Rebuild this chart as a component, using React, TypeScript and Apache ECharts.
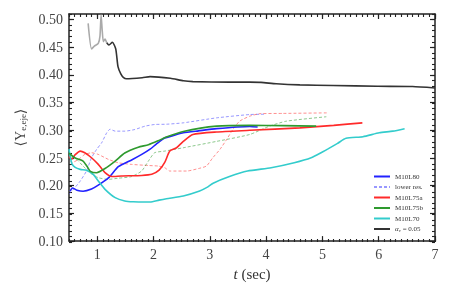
import React, { useEffect, useRef } from "react";
import * as echarts from "echarts";

const xMajor = [1, 2, 3, 4, 5, 6, 7];
const yMajor = [0.1, 0.15, 0.2, 0.25, 0.3, 0.35, 0.4, 0.45, 0.5];

const m10l80 = [[0.52,0.19],[0.56,0.196],[0.64,0.192],[0.75,0.19],[0.9,0.194],[1.02,0.201],[1.2,0.214],[1.37,0.234],[1.5,0.241],[1.62,0.247],[1.8,0.257],[1.94,0.266],[2.05,0.275],[2.2,0.286],[2.4,0.292],[2.53,0.2955],[2.8,0.299],[3.12,0.303],[3.71,0.307],[3.85,0.306]];
const lowerRes = [[0.5,0.185],[0.58,0.1935],[0.7,0.2085],[0.81,0.2265],[0.9,0.2505],[0.99,0.2655],[1.08,0.2775],[1.17,0.2955],[1.23,0.302],[1.32,0.2985],[1.49,0.2985],[1.67,0.3015],[1.85,0.3075],[2.02,0.3105],[2.23,0.311],[2.53,0.3135],[3.12,0.3225],[3.71,0.3285],[3.97,0.329]];
const m10l75a = [[0.5,0.252],[0.55,0.248],[0.61,0.256],[0.7,0.2625],[0.78,0.2595],[0.9,0.2505],[1.02,0.2385],[1.14,0.2235],[1.26,0.2165],[1.43,0.2175],[1.79,0.2185],[1.97,0.2205],[2.1,0.228],[2.2,0.242],[2.29,0.2625],[2.41,0.2685],[2.53,0.28],[2.7,0.2925],[3.12,0.297],[3.71,0.3],[4.6,0.3045],[5.2,0.309],[5.71,0.3135]];
const m10l75aLow = [[0.5,0.2535],[0.55,0.2415],[0.67,0.2475],[0.78,0.2565],[0.9,0.2595],[1.02,0.2565],[1.2,0.2475],[1.37,0.2415],[1.61,0.2385],[1.91,0.2365],[2.08,0.2355],[2.2,0.2325],[2.29,0.2265],[2.59,0.2265],[2.8,0.231],[2.94,0.2355],[3.05,0.25],[3.18,0.2655],[3.3,0.2835],[3.41,0.3015],[3.53,0.3165],[3.71,0.3255],[3.89,0.33],[4.3,0.3305],[5.09,0.3315]];
const m10l75b = [[0.5,0.259],[0.61,0.25],[0.75,0.2445],[0.82,0.235],[0.88,0.226],[0.99,0.2235],[1.14,0.231],[1.32,0.2445],[1.49,0.259],[1.73,0.2695],[1.91,0.274],[2.08,0.281],[2.23,0.288],[2.53,0.298],[3.12,0.3075],[3.71,0.309],[4.3,0.3085],[4.89,0.3075]];
const m10l75bLow = [[0.5,0.2595],[0.61,0.2505],[0.75,0.2355],[0.87,0.2235],[1.02,0.2145],[1.2,0.2115],[1.37,0.2135],[1.61,0.2165],[1.79,0.2265],[1.91,0.2445],[2.02,0.2595],[2.2,0.2625],[2.53,0.2685],[3.12,0.28],[3.71,0.2925],[4.06,0.3075],[4.36,0.3165],[5.07,0.3245]];
const m10l70 = [[0.5,0.266],[0.55,0.24],[0.61,0.233],[0.7,0.2295],[0.81,0.228],[0.93,0.2205],[1.02,0.2085],[1.14,0.1935],[1.32,0.1785],[1.49,0.1725],[1.64,0.171],[1.85,0.1705],[1.94,0.1705],[2.1,0.174],[2.23,0.1765],[2.53,0.1815],[2.82,0.1905],[2.95,0.197],[3.06,0.2045],[3.35,0.2165],[3.67,0.2265],[4.09,0.2325],[4.5,0.2415],[4.8,0.2505],[5.0,0.261],[5.1,0.2665],[5.27,0.2765],[5.42,0.2855],[5.72,0.2885],[6.01,0.2955],[6.25,0.2985],[6.46,0.303]];
const alphaEarly = [[0.84,0.493],[0.9,0.447],[0.95,0.452],[1.02,0.457],[1.05,0.47],[1.07,0.508],[1.09,0.48],[1.11,0.46],[1.14,0.465],[1.17,0.458]];
const alpha005 = [[1.17,0.458],[1.21,0.454],[1.27,0.459],[1.33,0.447],[1.37,0.415],[1.42,0.402],[1.47,0.395],[1.52,0.393],[1.8,0.395],[1.94,0.397],[2.3,0.394],[2.53,0.3895],[2.7,0.388],[3.35,0.387],[3.71,0.387],[3.91,0.3866],[4.18,0.384],[4.6,0.382],[5.19,0.381],[5.98,0.3795],[6.6,0.379],[7.0,0.3765]];

const FONT = "'Liberation Serif', 'DejaVu Serif', serif";
const AX = "#222";
const GRID = { left: 69, right: 23, top: 14, bottom: 44, containLabel: false };

export default function App() {
  const ref = useRef<HTMLDivElement>(null);
  useEffect(() => {
    if (!ref.current) return;
    const chart = echarts.init(ref.current, undefined, { renderer: "svg" });
    const xMin = 0.5, xMax = 7, yMin = 0.1, yMax = 0.51;

    const majorX = (pos: string, labels: boolean, extra: any = {}) => ({
      type: "value", gridIndex: 0, min: xMin, max: xMax, position: pos,
      axisLine: { show: true, onZero: false, lineStyle: { color: AX, width: 1.5 } },
      axisTick: { show: true, inside: true, length: 5, customValues: xMajor, lineStyle: { color: AX, width: 1.2 } },
      axisLabel: labels
        ? { show: true, customValues: xMajor, color: "#444", fontFamily: FONT, fontSize: 14, margin: 6 }
        : { show: false },
      splitLine: { show: false },
      ...extra,
    });
    const minorX = (pos: string) => ({
      type: "value", gridIndex: 1, min: xMin, max: xMax, interval: 0.1, position: pos,
      axisLine: { show: false, onZero: false },
      axisTick: { show: true, inside: true, length: 3, lineStyle: { color: AX, width: 1.1 } },
      axisLabel: { show: false }, splitLine: { show: false },
    });
    const majorY = (pos: string, labels: boolean, extra: any = {}) => ({
      type: "value", gridIndex: 0, min: yMin, max: yMax, position: pos,
      axisLine: { show: true, onZero: false, lineStyle: { color: AX, width: 1.5 } },
      axisTick: { show: true, inside: true, length: 5, customValues: yMajor, lineStyle: { color: AX, width: 1.2 } },
      axisLabel: labels
        ? { show: true, customValues: yMajor, color: "#444", fontFamily: FONT, fontSize: 14, margin: 6,
            formatter: (v: number) => v.toFixed(2) }
        : { show: false },
      splitLine: { show: false },
      ...extra,
    });
    const minorY = (pos: string) => ({
      type: "value", gridIndex: 1, min: yMin, max: yMax, interval: 0.01, position: pos,
      axisLine: { show: false, onZero: false },
      axisTick: { show: true, inside: true, length: 3, lineStyle: { color: AX, width: 1.1 } },
      axisLabel: { show: false }, splitLine: { show: false },
    });

    const solid = (name: string, data: number[][], color: string, z = 2) => ({
      name, type: "line", data, showSymbol: false, symbol: "none", smooth: 0.2, z,
      lineStyle: { color, width: 1.6 }, itemStyle: { color },
    });
    const dashed = (name: string, data: number[][], color: string) => ({
      name, type: "line", data, showSymbol: false, symbol: "none", smooth: 0.2, z: 1,
      lineStyle: { color, width: 1, type: [3, 2], opacity: 0.55 }, itemStyle: { color, opacity: 0.55 },
    });

    chart.setOption({
      animation: false,
      grid: [GRID, GRID],
      xAxis: [
        majorX("bottom", true, {
          name: "{i|t} (sec)", nameLocation: "middle", nameGap: 21,
          nameTextStyle: { fontFamily: FONT, fontSize: 15, color: "#333",
            rich: { i: { fontStyle: "italic", fontFamily: FONT, fontSize: 15, color: "#333" } } },
        }),
        majorX("top", false),
        minorX("bottom"),
        minorX("top"),
      ],
      yAxis: [
        majorY("left", true, {
          name: "⟨Y{s|e,eje}⟩", nameLocation: "middle", nameGap: 35, nameRotate: 90,
          nameTextStyle: { fontFamily: FONT, fontSize: 14, color: "#444",
            rich: { s: { fontFamily: FONT, fontSize: 9, color: "#444", padding: [6, 0, 0, 0] } } },
        }),
        majorY("right", false),
        minorY("left"),
        minorY("right"),
      ],
      legend: {
        orient: "vertical", left: 368, top: 168, itemWidth: 16, itemHeight: 8, itemGap: 3.5,
        itemStyle: { opacity: 0 },
        data: ["M10L80", "lower res.", "M10L75a", "M10L75b", "M10L70", "alpha"],
        formatter: (n: string) => (n === "alpha" ? "{a|α}{s|ν} = 0.05" : n),
        textStyle: { fontFamily: FONT, fontSize: 7, color: "#333",
          rich: {
            a: { fontFamily: FONT, fontSize: 7, fontStyle: "italic", color: "#333" },
            s: { fontFamily: FONT, fontSize: 5, fontStyle: "italic", color: "#333", padding: [3, 0, 0, 0] },
          } },
      },
      series: [
        solid("M10L80", m10l80, "#2222ff", 3),
        dashed("lower res.", lowerRes, "#4444ff"),
        solid("M10L75a", m10l75a, "#ff2a2a", 3),
        dashed("M10L75a low", m10l75aLow, "#ff3333"),
        solid("M10L75b", m10l75b, "#2e9a2e", 4),
        dashed("M10L75b low", m10l75bLow, "#2e9a2e"),
        solid("M10L70", m10l70, "#33cccc", 3),
        solid("alpha early", alphaEarly, "#aaaaaa", 2),
        solid("alpha", alpha005, "#333333", 3),
      ],
    });
    return () => chart.dispose();
  }, []);
  return <div ref={ref} style={{ position: "fixed", left: 0, top: 0, width: 458, height: 286 }} />;
}
